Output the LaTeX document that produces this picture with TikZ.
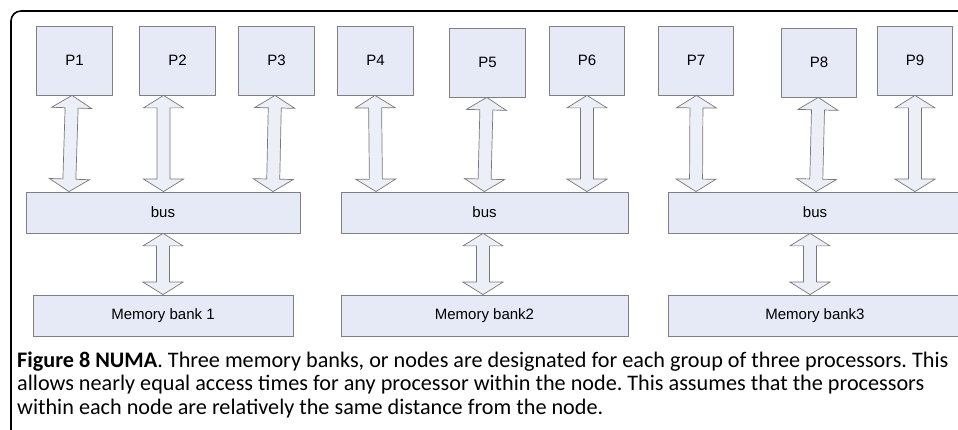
\documentclass[tikz,border=0pt]{standalone}
\usepackage{fontspec}
\setmainfont{Liberation Sans}
\newfontfamily\capfont{Carlito}
\usetikzlibrary{calc}
\definecolor{boxfill}{RGB}{230,233,246}
\definecolor{boxline}{RGB}{128,128,128}
\definecolor{arrfill}{RGB}{236,239,248}
\definecolor{arrline}{RGB}{120,120,120}
\newcommand\arrhl{12.5pt}
\newcommand\arrhw{20pt}
\newcommand\arrsw{6.5pt}
\newcommand\dblarrow[2]{%
\filldraw[arr] (#1)
 -- ($($(#1)!\arrhl!(#2)$)!\arrhw!90:(#2)$)
 -- ($($(#1)!\arrhl!(#2)$)!\arrsw!90:(#2)$)
 -- ($($(#2)!\arrhl!(#1)$)!\arrsw!-90:(#1)$)
 -- ($($(#2)!\arrhl!(#1)$)!\arrhw!-90:(#1)$)
 -- (#2)
 -- ($($(#2)!\arrhl!(#1)$)!\arrhw!90:(#1)$)
 -- ($($(#2)!\arrhl!(#1)$)!\arrsw!90:(#1)$)
 -- ($($(#1)!\arrhl!(#2)$)!\arrsw!-90:(#2)$)
 -- ($($(#1)!\arrhl!(#2)$)!\arrhw!-90:(#2)$)
 -- cycle;}
\frenchspacing
\begin{document}
\begin{tikzpicture}[x=1pt,y=-1pt,
  box/.style={draw=boxline,fill=boxfill,line width=0.8pt,inner sep=0pt,
    font=\fontsize{15}{18}\selectfont},
  proc/.style={box,minimum width=75.5pt,minimum height=69pt},
  busbox/.style={box,minimum height=41pt},
  arr/.style={draw=arrline,fill=arrfill,line width=0.7pt,line join=miter},
  captext/.style={anchor=base west,inner sep=0pt,font=\capfont\fontsize{22.2}{26}\selectfont}]
\useasboundingbox (0,0) rectangle (958,430);
\clip (0,0) rectangle (958,430);
\fill[white] (0,0) rectangle (958,430);
% frame
\draw[line width=1.6pt,rounded corners=10pt] (11,445) -- (11,11) -- (975,11);
% processors
\node[proc] (P1) at (74.5,60.5) {P1};
\node[proc] (P2) at (177.5,60.5) {P2};
\node[proc] (P3) at (276.5,60.5) {P3};
\node[proc] (P4) at (375.5,60.5) {P4};
\node[proc] (P5) at (487.5,62.5) {P5};
\node[proc] (P6) at (587,60.5) {P6};
\node[proc] (P7) at (696,60.5) {P7};
\node[proc] (P8) at (819,62.5) {P8};
\node[proc] (P9) at (915,60.5) {P9};
% buses
\node[busbox,minimum width=274pt] (bus1) at (163,212.5) {bus};
\node[busbox,minimum width=287pt] (bus2) at (484.5,212.5) {bus};
\node[busbox,minimum width=294pt] (bus3) at (815,212.5) {bus};
% memory banks
\node[busbox,minimum width=260pt] (mem1) at (163,315.5) {Memory bank 1};
\node[busbox,minimum width=287pt] (mem2) at (484.5,315.5) {Memory bank2};
\node[busbox,minimum width=294pt] (mem3) at (815,315.5) {Memory bank3};
% arrow ends
\coordinate (a1) at ($(P1.south)+(-2.5,0)$);
\coordinate (b1) at ($(P1.south |- bus1.north)+(-5.5,0)$);
\coordinate (a2) at ($(P2.south)+(-14,0)$);
\coordinate (b2) at ($(P2.south |- bus1.north)+(-14,0)$);
\coordinate (a3) at ($(P3.south)+(-1.5,0)$);
\coordinate (b3) at ($(P3.south |- bus1.north)+(-3.5,0)$);
\coordinate (a4) at ($(P4.south)+(-0.5,0)$);
\coordinate (b4) at ($(P4.south |- bus2.north)+(0.5,0)$);
\coordinate (a5) at ($(P5.south)+(-0.8,0)$);
\coordinate (b5) at ($(P5.south |- bus2.north)+(-3.2,0)$);
\coordinate (a6) at (P6.south);
\coordinate (b6) at (P6.south |- bus2.north);
\coordinate (a7) at ($(P7.south)+(0.5,0)$);
\coordinate (b7) at (P7.south |- bus3.north);
\coordinate (a8) at ($(P8.south)+(-0.7,0)$);
\coordinate (b8) at ($(P8.south |- bus3.north)+(-3,0)$);
\coordinate (a9) at (P9.south);
\coordinate (b9) at (P9.south |- bus3.north);
\coordinate (c1) at (bus1.south);
\coordinate (d1) at (mem1.north);
\coordinate (c2) at ($(bus2.south)+(-1.5,0)$);
\coordinate (d2) at ($(mem2.north)+(-1.5,0)$);
\coordinate (c3) at ($(bus3.south)+(-5,0)$);
\coordinate (d3) at ($(mem3.north)+(-5,0)$);
\dblarrow{a1}{b1}
\dblarrow{a2}{b2}
\dblarrow{a3}{b3}
\dblarrow{a4}{b4}
\dblarrow{a5}{b5}
\dblarrow{a6}{b6}
\dblarrow{a7}{b7}
\dblarrow{a8}{b8}
\dblarrow{a9}{b9}
\dblarrow{c1}{d1}
\dblarrow{c2}{d2}
\dblarrow{c3}{d3}
% caption
\node[captext] (cap1) at (17,367) {\textbf{Figure 8 NUMA}. Three memory banks, or nodes are designated for each group of three processors. This};
\node[captext] (cap2) at (17,390.5) {allows nearly equal access times for any processor within the node. This assumes that the processors};
\node[captext] (cap3) at (17,414) {within each node are relatively the same distance from the node.};
\end{tikzpicture}
\end{document}
